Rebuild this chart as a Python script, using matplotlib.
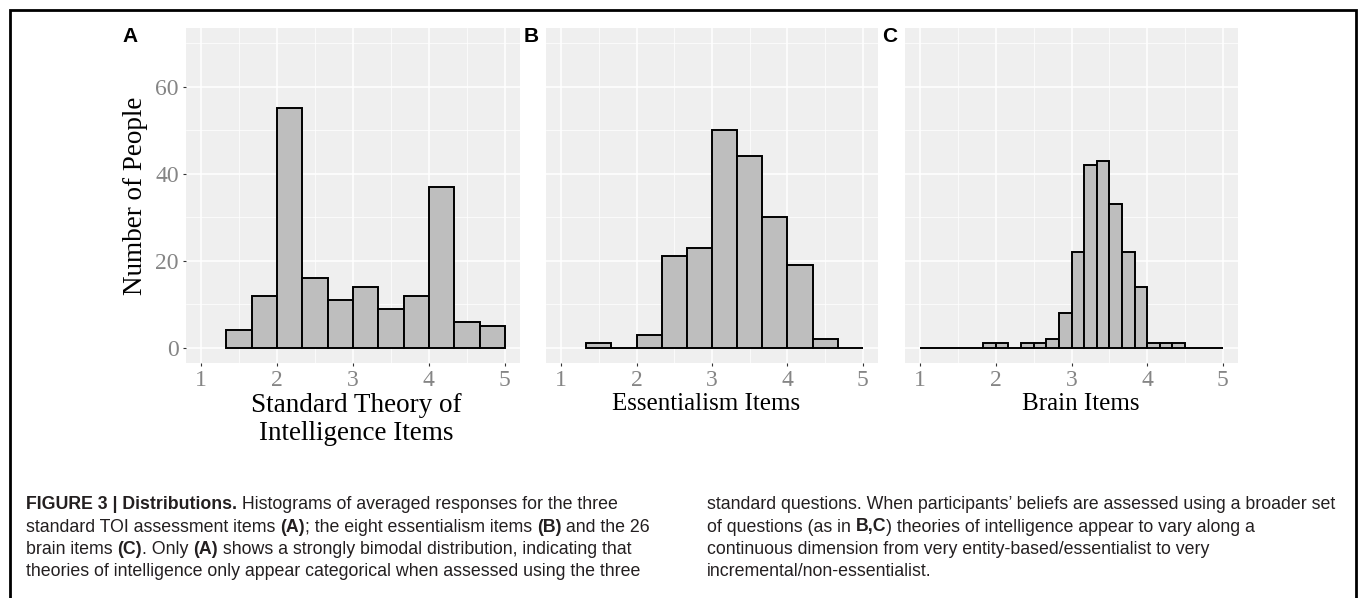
import numpy as np
import matplotlib
matplotlib.use("Agg")
import matplotlib.pyplot as plt
from matplotlib.patches import Rectangle

# histogram bins and counts
edges_a = np.linspace(4 / 3, 5, 12)
counts_a = [4, 12, 55, 16, 11, 14, 9, 12, 37, 6, 5]
edges_b = np.linspace(4 / 3, 5, 12)
counts_b = [1, 0, 3, 21, 23, 50, 44, 30, 19, 2, 0]
edges_c = np.linspace(1, 5, 25)
counts_c = [0, 0, 0, 0, 0, 1, 1, 0, 1, 1, 2, 8, 22, 42, 43, 33, 22, 14, 1, 1, 1, 0, 0, 0]

panel_tags = ["A", "B", "C"]
xlabels = ["Standard Theory of\nIntelligence Items", "Essentialism Items", "Brain Items"]
ylabel = "Number of People"
xticks = [1, 2, 3, 4, 5]
yticks = [0, 20, 40, 60]

caption_left = [
    [("FIGURE 3 | Distributions.", True), (" Histograms of averaged responses for the three", False)],
    [("standard TOI assessment items ", False), ("(A)", True), ("; the eight essentialism items ", False),
     ("(B)", True), (" and the 26", False)],
    [("brain items ", False), ("(C)", True), (". Only ", False), ("(A)", True),
     (" shows a strongly bimodal distribution, indicating that", False)],
    [("theories of intelligence only appear categorical when assessed using the three", False)],
]
caption_right = [
    [("standard questions. When participants\u2019 beliefs are assessed using a broader set", False)],
    [("of questions (as in ", False), ("B,C", True), (") theories of intelligence appear to vary along a", False)],
    [("continuous dimension from very entity-based/essentialist to very", False)],
    [("incremental/non-essentialist.", False)],
]

W, H = 1360, 598
fig = plt.figure(figsize=(W / 100, H / 100), dpi=100)
fig.patch.set_facecolor("white")


def px(x, y):
    return x / W, 1 - y / H


# panel rectangles in pixels: left, right, top, bottom
boxes = [(186, 520, 28, 363), (546, 878, 28, 363), (905, 1238, 28, 363)]
tag_pos = [(130, 36), (531, 36), (890, 36)]
title_size = [19.5, 18, 18]
xlabel_shift = [3, -6, 9]   # px, the reference labels are not quite centred
data = [(edges_a, counts_a), (edges_b, counts_b), (edges_c, counts_c)]

serif = ["Liberation Serif", "DejaVu Serif"]
sans = ["Liberation Sans", "DejaVu Sans"]

for i, (l, r, t, b) in enumerate(boxes):
    ax = fig.add_axes([l / W, 1 - b / H, (r - l) / W, (b - t) / H])
    edges, counts = data[i]
    ax.set_facecolor("#EFEFEF")
    ax.bar(edges[:-1], counts, width=np.diff(edges), align="edge",
           color="#BEBEBE", edgecolor="black", linewidth=1.4, zorder=3)
    ax.set_xlim(0.8, 5.2)
    ax.set_ylim(-3.5, 73.5)
    ax.set_xticks(xticks)
    ax.set_xticks([1.5, 2.5, 3.5, 4.5], minor=True)
    ax.set_yticks(yticks)
    ax.set_yticks([10, 30, 50, 70], minor=True)
    ax.grid(which="major", color="white", linewidth=1.1, zorder=0)
    ax.grid(which="minor", color="white", linewidth=0.5, zorder=0)
    ax.set_axisbelow(True)
    for s in ax.spines.values():
        s.set_visible(False)
    ax.tick_params(which="major", length=2.2, width=0.8, color="#333333",
                   labelsize=17, labelcolor="#858585", pad=3)
    ax.tick_params(which="minor", length=0)
    for lab in ax.get_xticklabels() + ax.get_yticklabels():
        lab.set_family(serif)
    if i == 0:
        ax.set_ylabel(ylabel, fontsize=19.5, family=serif, labelpad=5)
    else:
        ax.tick_params(axis="y", which="both", left=False, labelleft=False)
    ax.set_xlabel(xlabels[i], fontsize=title_size[i], family=serif,
                  linespacing=1.15, va="top")
    ax.xaxis.set_label_coords(0.5 + xlabel_shift[i] / (r - l), -(393 - b) / (b - t))
    fx, fy = px(*tag_pos[i])
    fig.text(fx, fy, panel_tags[i], fontsize=15, fontweight="bold", family=sans,
             ha="center", va="center")

# caption box frame (open at the bottom edge)
x0, y0 = px(10, H + 10)
x1, y1 = px(1356, 10)
fig.patches.append(Rectangle((x0, y0), x1 - x0, y1 - y0, transform=fig.transFigure,
                             fill=False, edgecolor="black", linewidth=2.0))

renderer = fig.canvas.get_renderer()


def rich_line(x, y, parts):
    fx, fy = px(x, y)
    for txt, bold in parts:
        t = fig.text(fx, fy, txt, fontsize=12.8, family=sans, color="#231F20",
                     fontweight="bold" if bold else "normal", va="baseline", ha="left")
        ext = t.get_window_extent(renderer=renderer)
        fx = ext.x1 / W


baselines = [509, 531.5, 554, 576.5]
for yb, parts in zip(baselines, caption_left):
    rich_line(26, yb, parts)
for yb, parts in zip(baselines, caption_right):
    rich_line(707, yb, parts)

fig.savefig("out.png", dpi=100)
